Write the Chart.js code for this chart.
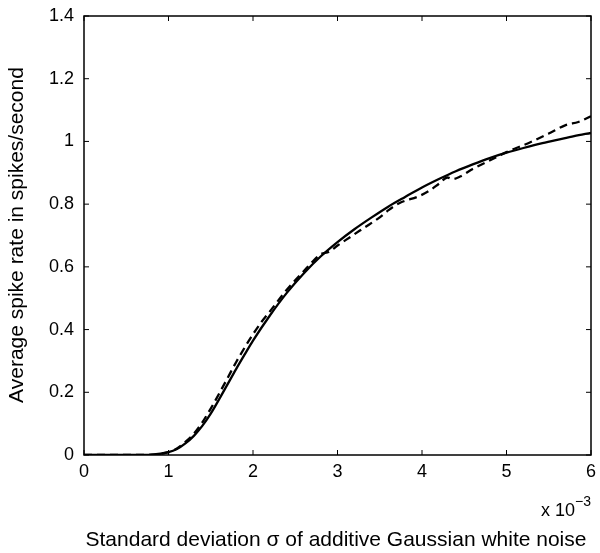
<!DOCTYPE html>
<html>
<head>
<meta charset="utf-8">
<script src="https://cdn.jsdelivr.net/npm/chart.js@4/dist/chart.umd.min.js"></script>
<style>
  html, body { margin: 0; padding: 0; background: #fff; }
  #wrap { width: 600px; height: 553px; }
</style>
</head>
<body>
<div id="wrap"><canvas id="chartRate"></canvas></div>
<script>
// ===== data (sigma in units of 1e-3) =====
const sigmaSolid = [0, 0.2, 0.4, 0.6, 0.8, 1.0, 1.1, 1.2, 1.3, 1.4, 1.5, 1.6, 1.7, 1.8, 1.9, 2.0,
  2.2, 2.4, 2.6, 2.8, 3.0, 3.2, 3.4, 3.6, 3.8, 4.0, 4.2, 4.4, 4.6, 4.8, 5.0, 5.2, 5.4, 5.6, 5.8, 6.0];
const rateSolid = [0, 0, 0, 0, 0.001, 0.009, 0.019, 0.037, 0.061, 0.093, 0.132, 0.178, 0.226, 0.274, 0.32, 0.365,
  0.445, 0.517, 0.579, 0.633, 0.679, 0.72, 0.757, 0.792, 0.823, 0.853, 0.88, 0.905, 0.927, 0.947, 0.964, 0.979, 0.993, 1.005, 1.017, 1.027];

const sigmaDashed = [0, 0.2, 0.4, 0.6, 0.8, 1.0, 1.1, 1.2, 1.3, 1.4, 1.5, 1.6, 1.7, 1.8, 1.9, 2.0, 2.1, 2.2,
  2.4, 2.6, 2.7, 2.8, 2.9, 3.0, 3.1, 3.3, 3.5, 3.6, 3.73, 3.97, 4.1, 4.2, 4.3, 4.36, 4.45, 4.6, 4.83, 5.0,
  5.27, 5.5, 5.7, 5.85, 6.0];
const rateDashed = [0, 0, 0, 0, 0.001, 0.009, 0.021, 0.042, 0.068, 0.104, 0.148, 0.196, 0.246, 0.296, 0.342, 0.385, 0.424, 0.458,
  0.527, 0.586, 0.615, 0.64, 0.648, 0.668, 0.686, 0.722, 0.758, 0.78, 0.803, 0.826, 0.845, 0.865, 0.885, 0.88, 0.888, 0.912, 0.943, 0.966,
  0.996, 1.025, 1.052, 1.062, 1.08];

const xTitulo = 'Standard deviation \u03c3 of additive Gaussian white noise';
const yTitulo = 'Average spike rate in spikes/second';
const expoBase = 'x 10';
const expoSup = '\u22123';

const FONTE = '"Liberation Sans", Arial, Helvetica, sans-serif';

function pares(xs, ys) {
  return xs.map((x, i) => ({ x: x, y: ys[i] }));
}

// desenha moldura, ticks internos e textos dos eixos
const molduraPlugin = {
  id: 'moldura',
  afterDatasetsDraw(chart) {
    const { ctx, chartArea: a, scales } = chart;
    ctx.save();
    ctx.strokeStyle = '#000';
    ctx.lineWidth = 1.5;
    ctx.strokeRect(a.left, a.top, a.right - a.left, a.bottom - a.top);

    const tl = 5;
    ctx.lineWidth = 1;
    ctx.beginPath();
    scales.x.ticks.forEach(t => {
      const px = scales.x.getPixelForValue(t.value);
      ctx.moveTo(px, a.bottom); ctx.lineTo(px, a.bottom - tl);
      ctx.moveTo(px, a.top); ctx.lineTo(px, a.top + tl);
    });
    scales.y.ticks.forEach(t => {
      const py = scales.y.getPixelForValue(t.value);
      ctx.moveTo(a.left, py); ctx.lineTo(a.left + tl, py);
      ctx.moveTo(a.right, py); ctx.lineTo(a.right - tl, py);
    });
    ctx.stroke();

    ctx.fillStyle = '#000';
    // titulo eixo x
    ctx.font = '21px ' + FONTE;
    ctx.textAlign = 'center';
    ctx.textBaseline = 'middle';
    ctx.fillText(xTitulo, 336, 540);

    // titulo eixo y
    ctx.save();
    ctx.translate(17, 235);
    ctx.rotate(-Math.PI / 2);
    ctx.fillText(yTitulo, 0, 0);
    ctx.restore();

    // expoente x 10^-3
    ctx.font = '14px ' + FONTE;
    ctx.textAlign = 'right';
    const supW = ctx.measureText(expoSup).width;
    ctx.fillText(expoSup, a.right, 502);
    ctx.font = '18px ' + FONTE;
    ctx.fillText(expoBase, a.right - supW, 511);
    ctx.restore();
  }
};

new Chart(document.getElementById('chartRate'), {
  type: 'scatter',
  data: {
    datasets: [
      {
        label: 'solid',
        data: pares(sigmaSolid, rateSolid),
        showLine: true,
        borderColor: '#000',
        borderWidth: 2.3,
        pointRadius: 0,
        cubicInterpolationMode: 'monotone',
        fill: false
      },
      {
        label: 'dashed',
        data: pares(sigmaDashed, rateDashed),
        showLine: true,
        borderColor: '#000',
        borderWidth: 2.3,
        borderDash: [8, 5],
        pointRadius: 0,
        cubicInterpolationMode: 'monotone',
        fill: false
      }
    ]
  },
  options: {
    responsive: true,
    maintainAspectRatio: false,
    animation: false,
    layout: { padding: { left: 0, right: 9, top: 16, bottom: 0 } },
    plugins: { legend: { display: false }, tooltip: { enabled: false } },
    scales: {
      x: {
        type: 'linear',
        min: 0, max: 6,
        border: { display: false },
        grid: { display: false, drawTicks: false },
        ticks: {
          stepSize: 1, padding: 6, color: '#000', maxRotation: 0,
          font: { size: 18, family: FONTE }
        },
        afterFit(scale) {
          scale.height = 98;
          scale.paddingLeft = 0;
          scale.paddingRight = 0;
        }
      },
      y: {
        type: 'linear',
        min: 0, max: 1.4,
        border: { display: false },
        grid: { display: false, drawTicks: false },
        ticks: {
          stepSize: 0.2, padding: 10, color: '#000',
          font: { size: 18, family: FONTE },
          callback: v => +v.toFixed(1)
        },
        afterFit(scale) {
          scale.width = 84;
          scale.paddingTop = 0;
          scale.paddingBottom = 0;
        }
      }
    }
  },
  plugins: [molduraPlugin]
});
</script>
</body>
</html>
